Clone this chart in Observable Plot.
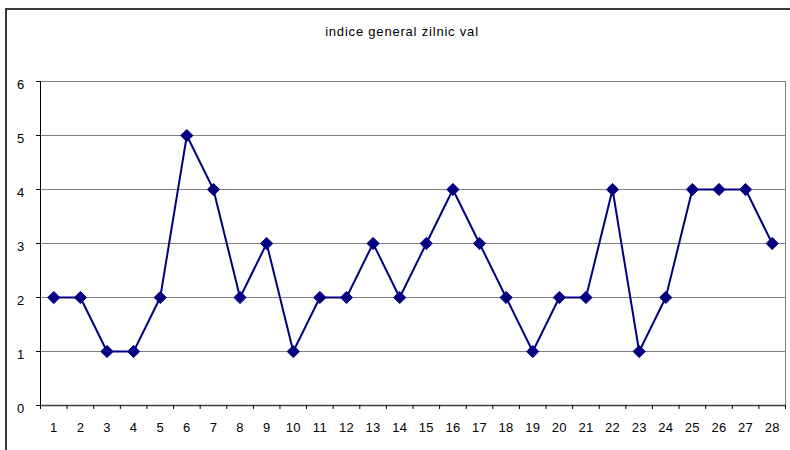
<!DOCTYPE html>
<html><head>
<meta charset="utf-8">
<script src="https://cdn.jsdelivr.net/npm/d3@7"></script>
<script src="https://cdn.jsdelivr.net/npm/@observablehq/plot@0.6"></script>
<style>
body{margin:0;background:#fff;font-family:"Liberation Sans",Arial,sans-serif}
#wrap{position:relative;width:790px;height:450px;overflow:hidden;background:#fff}
#border{position:absolute;left:5px;top:8px;width:800px;height:460px;border:2px solid #3a3a3a;pointer-events:none}
#chart{position:absolute;left:0;top:0}
.ttl text{letter-spacing:0.8px}
.xlab text, .ylab text{letter-spacing:0.3px}
</style>
</head><body>
<div id="wrap"><div id="chart"></div><div id="border"></div></div>
<script>
const title = "indice general zilnic val";
const days = [1,2,3,4,5,6,7,8,9,10,11,12,13,14,15,16,17,18,19,20,21,22,23,24,25,26,27,28];
const values = [2,2,1,1,2,5,4,2,3,1,2,2,3,2,3,4,3,2,1,2,2,4,1,2,4,4,4,3];
const yTicks = [0,1,2,3,4,5,6];
const gridLines = [1,2,3,4,5,6];

const data = days.map((d,i)=>({day:d, value:values[i]}));
const boundaries = d3.range(0, days.length + 1).map(k => k + 0.5);
const xMin = 0.5, xMax = days.length + 0.5;

const chart = Plot.plot({
  width: 790,
  height: 450,
  marginLeft: 40,
  marginRight: 5,
  marginTop: 81,
  marginBottom: 45,
  style: {fontFamily: '"Liberation Sans", Arial, sans-serif', fontSize: "13px", color: "#000", background: "transparent"},
  x: {domain: [xMin, xMax], axis: null},
  y: {domain: [0, 6], axis: null},
  marks: [
    Plot.ruleY(gridLines, {stroke: "#808080", strokeWidth: 1}),
    Plot.ruleX([xMax], {stroke: "#808080", strokeWidth: 1}),
    Plot.ruleX([xMin], {stroke: "#000", strokeWidth: 1}),
    Plot.ruleY([0], {stroke: "#404040", strokeWidth: 1.5}),
    Plot.axisY(yTicks, {tickSize: 4, tickFormat: () => "", stroke: "#000", label: null}),
    Plot.axisY(yTicks, {tickSize: 0, tickPadding: 16, tickFormat: d3.format("d"), fill: "#000", fontSize: 13, dy: 3, label: null, className: "ylab"}),
    Plot.axisX(boundaries, {tickSize: 4, tickFormat: () => "", stroke: "#000", label: null}),
    Plot.axisX(days, {tickSize: 0, tickPadding: 17, fill: "#000", fontSize: 13, label: null, className: "xlab"}),
    Plot.line(data, {x: "day", y: "value", stroke: "#000080", strokeWidth: 2}),
    Plot.dot(data, {x: "day", y: "value", symbol: "diamond2", r: 5.5, fill: "#000080", stroke: "#000080", strokeWidth: 1}),
    Plot.text([title], {frameAnchor: "top", dy: -55, dx: -11, fontSize: 13, fill: "#000", className: "ttl"})
  ]
});
document.getElementById("chart").appendChild(chart);
</script>
</body></html>
